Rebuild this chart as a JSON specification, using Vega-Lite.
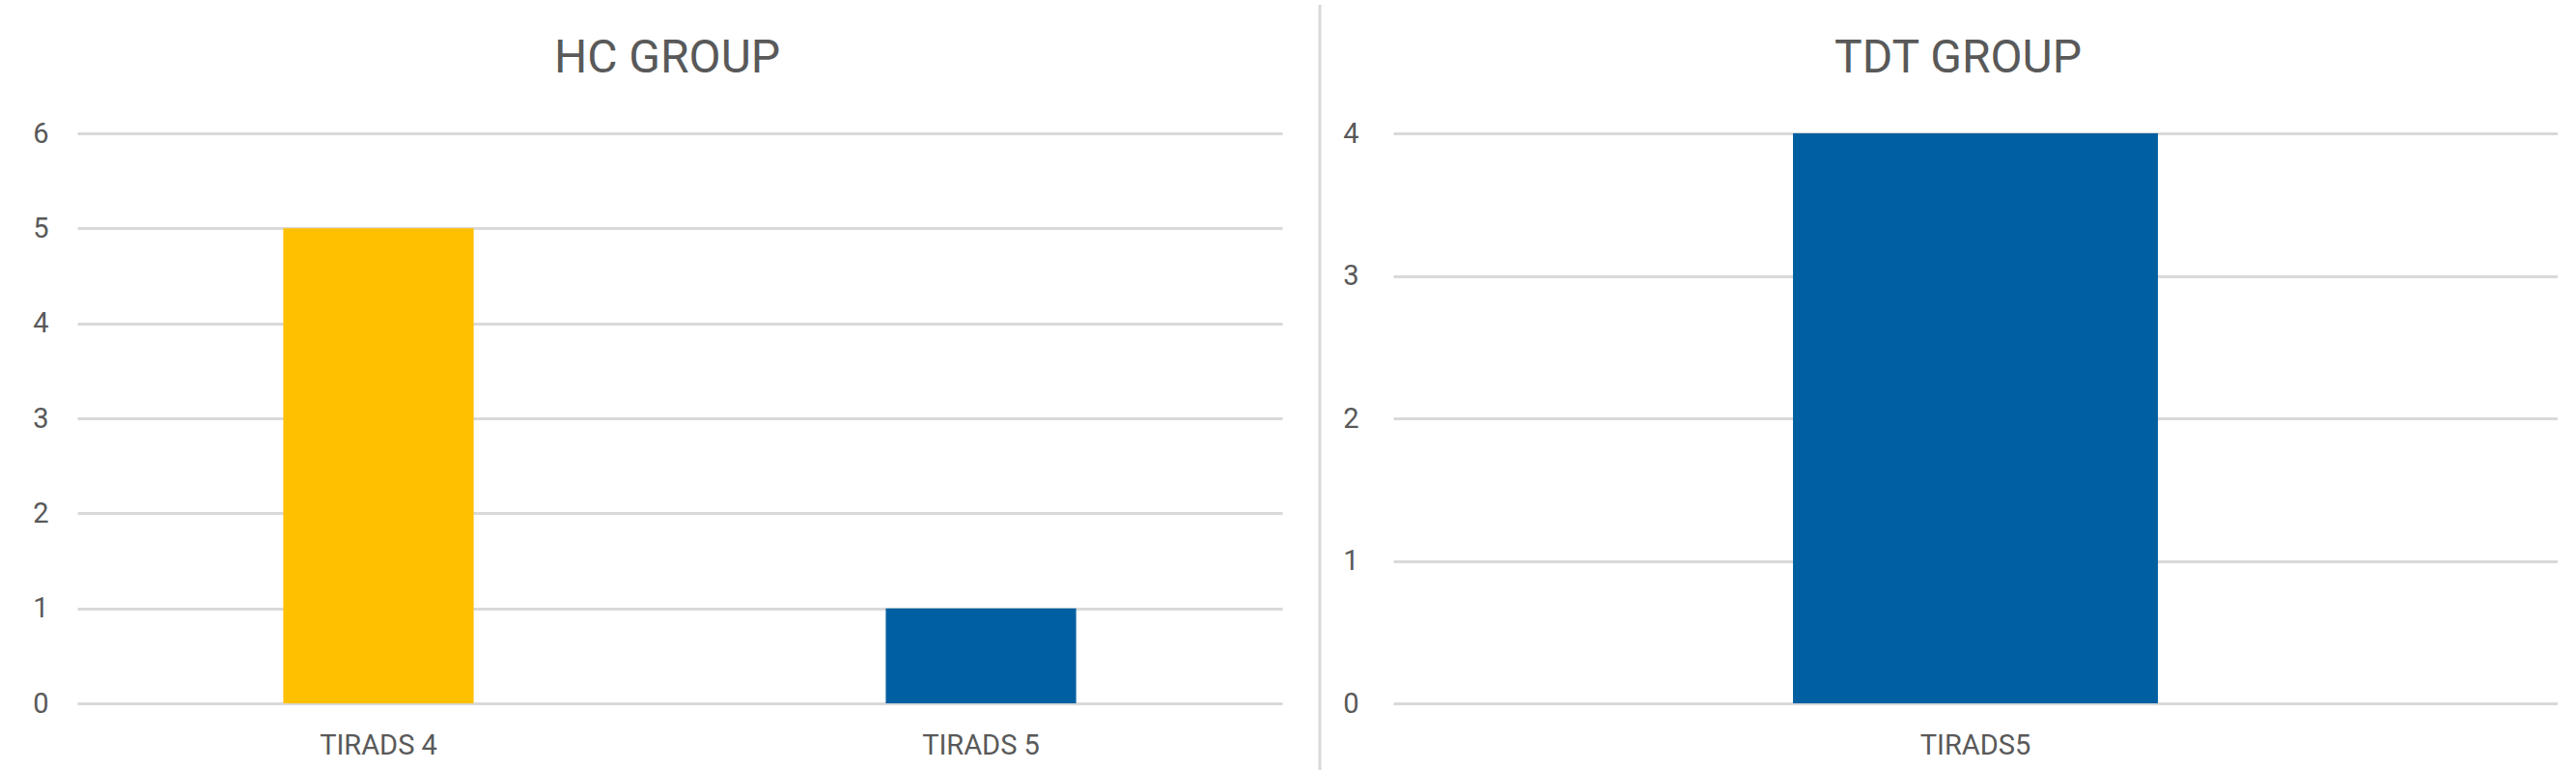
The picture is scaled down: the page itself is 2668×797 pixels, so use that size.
{
  "$schema": "https://vega.github.io/schema/vega-lite/v6.json",
  "padding": {"left": 0, "top": 3, "right": 0, "bottom": 0},
  "background": "white",
  "spacing": 10,
  "datasets": {
    "hc": [
      {"category": "TIRADS 4", "count": 5},
      {"category": "TIRADS 5", "count": 1}
    ],
    "tdt": [
      {"category": "TIRADS5", "count": 4}
    ],
    "divider": [
      {"pos": 0.7, "start": -0.1203, "end": 1.2254}
    ]
  },
  "hconcat": [
    {
      "width": 1248,
      "height": 590,
      "data": {"name": "hc"},
      "title": {"text": "HC GROUP", "dx": -13},
      "mark": {"type": "bar"},
      "encoding": {
        "x": {
          "field": "category", "type": "nominal", "sort": null,
          "scale": {"paddingInner": 0.684, "paddingOuter": 0.342},
          "axis": {"title": null, "labelAngle": 0, "labelPadding": 52, "labelBaseline": "alphabetic", "grid": false}
        },
        "y": {
          "field": "count", "type": "quantitative",
          "scale": {"domain": [0, 6]},
          "axis": {"title": null, "values": [0, 1, 2, 3, 4, 5, 6], "labelPadding": 30, "minExtent": 80, "maxExtent": 80, "grid": true}
        },
        "color": {
          "field": "category", "type": "nominal",
          "scale": {"domain": ["TIRADS 4", "TIRADS 5", "TIRADS5"], "range": ["#FFC000", "#005FA0", "#005FA0"]},
          "legend": null
        }
      }
    },
    {
      "width": 40,
      "height": 590,
      "data": {"name": "divider"},
      "view": {"stroke": "transparent"},
      "mark": {"type": "rule", "color": "#d9d9d9", "strokeWidth": 3},
      "encoding": {
        "x": {"field": "pos", "type": "quantitative", "scale": {"domain": [0, 1]}, "axis": null},
        "y": {"field": "start", "type": "quantitative", "scale": {"domain": [0, 1], "zero": false, "nice": false}, "axis": null},
        "y2": {"field": "end"}
      }
    },
    {
      "width": 1206,
      "height": 590,
      "data": {"name": "tdt"},
      "title": {"text": "TDT GROUP", "dx": -18},
      "mark": {"type": "bar"},
      "encoding": {
        "x": {
          "field": "category", "type": "nominal", "sort": null,
          "scale": {"paddingInner": 0.6866, "paddingOuter": 0.3433},
          "axis": {"title": null, "labelAngle": 0, "labelPadding": 52, "labelBaseline": "alphabetic", "grid": false}
        },
        "y": {
          "field": "count", "type": "quantitative",
          "scale": {"domain": [0, 4]},
          "axis": {"title": null, "values": [0, 1, 2, 3, 4], "labelPadding": 36, "minExtent": 52, "maxExtent": 52, "grid": true}
        },
        "color": {
          "field": "category", "type": "nominal",
          "legend": null
        }
      }
    }
  ],
  "config": {
    "view": {"stroke": null},
    "font": "Roboto",
    "axis": {
      "labelFont": "Roboto",
      "labelFontSize": 29,
      "labelColor": "#595959",
      "domain": false,
      "ticks": false,
      "tickSize": 0,
      "gridColor": "#d9d9d9",
      "gridWidth": 3
    },
    "title": {
      "font": "Roboto",
      "fontSize": 48,
      "fontWeight": "normal",
      "color": "#595959",
      "baseline": "alphabetic",
      "offset": 39,
      "frame": "group"
    }
  }
}
